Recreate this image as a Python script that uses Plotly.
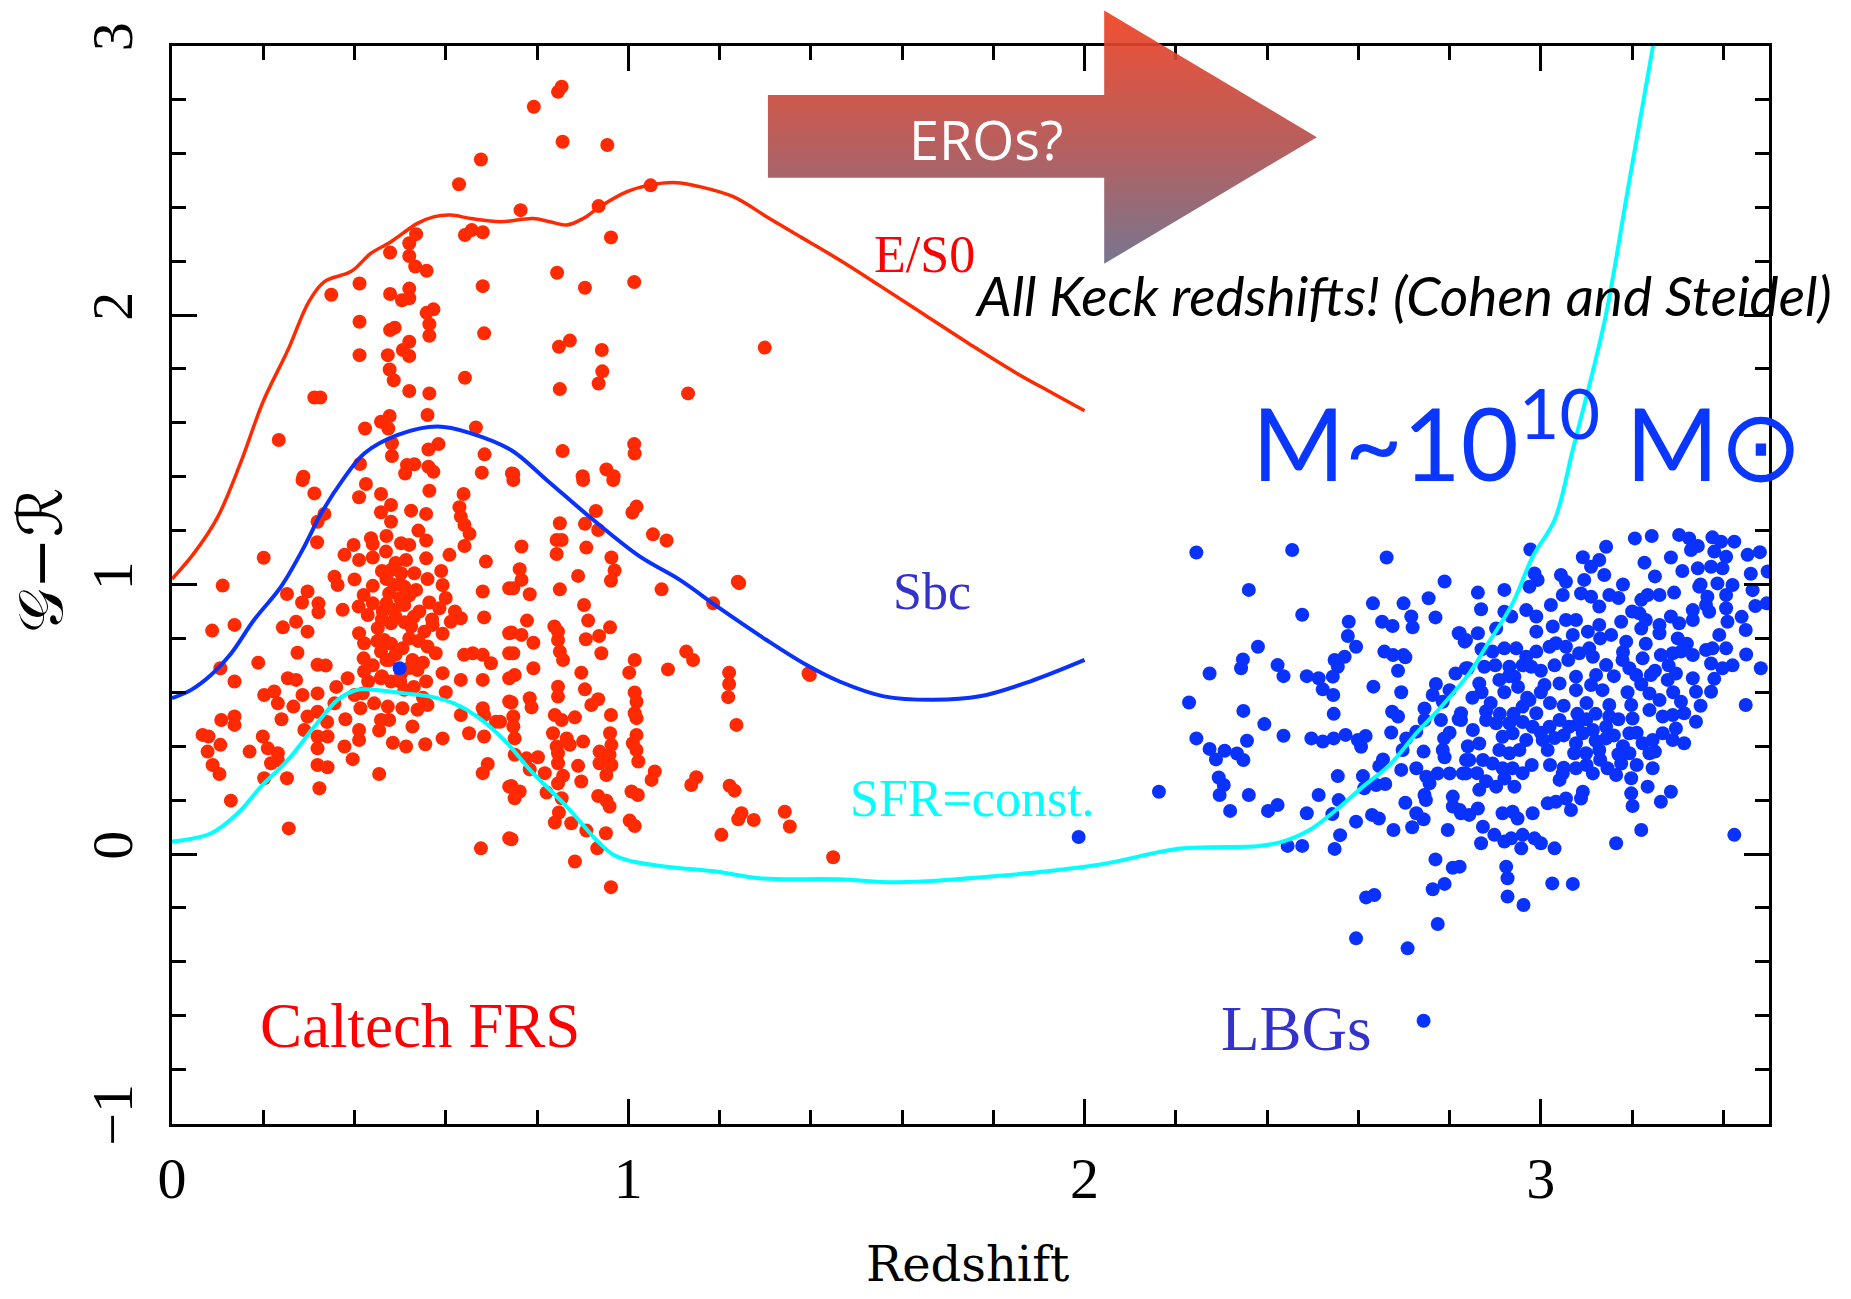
import plotly.graph_objects as go

W, H = 1851, 1299

# ---------------- model tracks (redshift, G-R) ----------------
es0_z = [0.0, 0.05, 0.10, 0.15, 0.20, 0.254, 0.30, 0.334, 0.392, 0.436, 0.48, 0.538, 0.575, 0.611, 0.655,
         0.72, 0.791, 0.828, 0.865, 0.901, 0.938, 0.996, 1.047, 1.105, 1.157, 1.23, 1.303, 1.376, 1.463,
         1.55, 1.65, 1.75, 1.85, 1.93, 2.0]
es0_gr = [1.02, 1.12, 1.25, 1.45, 1.68, 1.87, 2.05, 2.124, 2.161, 2.229, 2.272, 2.34, 2.365, 2.371, 2.358,
          2.346, 2.358, 2.346, 2.334, 2.358, 2.402, 2.457, 2.482, 2.491, 2.476, 2.439, 2.365, 2.291, 2.204,
          2.11, 2.0, 1.89, 1.785, 1.71, 1.645]

sbc_z = [0.0, 0.042, 0.086, 0.13, 0.18, 0.239, 0.29, 0.327, 0.375, 0.422, 0.495, 0.582, 0.655, 0.743,
         0.821, 0.923, 1.025, 1.113, 1.2, 1.303, 1.39, 1.463, 1.56, 1.67, 1.77, 1.88, 2.0]
sbc_gr = [0.578, 0.609, 0.665, 0.745, 0.869, 0.992, 1.141, 1.264, 1.39, 1.487, 1.555, 1.586, 1.561, 1.499,
          1.388, 1.24, 1.104, 1.017, 0.912, 0.794, 0.702, 0.64, 0.585, 0.572, 0.585, 0.64, 0.72]

sfr_z = [0.0, 0.086, 0.144, 0.195, 0.254, 0.312, 0.363, 0.40, 0.421, 0.509, 0.567, 0.618, 0.669, 0.728,
         0.791, 0.865, 0.93, 0.967, 1.01, 1.084, 1.193, 1.288, 1.463, 1.59, 1.82, 2.03, 2.21, 2.383,
         2.434, 2.493, 2.551, 2.61, 2.668, 2.727, 2.785, 2.843, 2.88, 2.938, 2.982, 3.03, 3.07, 3.14,
         3.19, 3.246]
sfr_gr = [0.046, 0.077, 0.151, 0.25, 0.349, 0.473, 0.572, 0.606, 0.611, 0.596, 0.584, 0.559, 0.51, 0.423,
          0.30, 0.176, 0.052, -0.003, -0.028, -0.047, -0.065, -0.09, -0.094, -0.105, -0.08, -0.04, 0.02,
          0.03, 0.046, 0.089, 0.163, 0.25, 0.33, 0.448, 0.553, 0.67, 0.77, 0.93, 1.103, 1.239, 1.5, 1.98,
          2.46, 3.0]

# ---------------- galaxies (redshift, G-R) ----------------
frs_points = [
    (0.677, 2.577), (0.629, 2.485), (0.535, 2.30), (0.52, 2.266), (0.478, 2.232), (0.52, 2.219), (0.533, 2.18),
    (0.558, 2.164), (0.642, 2.297), (0.657, 2.315), (0.681, 2.307), (0.411, 2.117), (0.349, 2.075), (0.478, 2.078),
    (0.504, 2.055), (0.52, 2.098), (0.52, 2.062), (0.681, 2.107), (0.558, 2.008), (0.573, 2.021), (0.564, 1.966),
    (0.564, 1.923), (0.411, 1.975), (0.478, 1.944), (0.488, 1.953), (0.684, 1.932), (0.52, 1.901), (0.506, 1.87),
    (0.52, 1.848), (0.411, 1.851), (0.473, 1.851), (0.477, 1.798), (0.486, 1.758), (0.52, 1.718), (0.564, 1.709),
    (0.642, 1.767), (0.312, 1.694), (0.325, 1.694), (0.477, 1.625), (0.458, 1.604), (0.474, 1.579), (0.56, 1.629),
    (0.666, 1.583), (0.423, 1.579), (0.234, 1.536), (0.482, 1.524), (0.482, 1.477), (0.584, 1.521), (0.562, 1.501),
    (0.685, 1.483), (0.412, 1.447), (0.515, 1.443), (0.531, 1.446), (0.511, 1.412), (0.562, 1.437), (0.573, 1.418),
    (0.679, 1.415), (0.288, 1.40), (0.745, 1.412),
    (0.854, 2.847), (0.846, 2.828), (0.793, 2.773), (0.856, 2.643), (0.954, 2.631), (0.764, 2.389), (0.935, 2.404),
    (1.049, 2.481), (0.962, 2.288), (0.844, 2.157), (0.905, 2.101), (1.013, 2.122), (0.872, 1.905), (0.848, 1.882),
    (0.942, 1.87), (0.943, 1.791), (0.935, 1.746), (0.85, 1.725), (1.131, 1.709), (1.299, 1.879), (0.856, 1.495),
    (1.013, 1.521), (1.014, 1.486), (0.748, 1.41), (0.90, 1.402), (0.952, 1.427), (0.968, 1.402),
    (0.286, 1.388), (0.312, 1.338), (0.41, 1.324), (0.425, 1.373), (0.458, 1.336), (0.48, 1.295), (0.458, 1.268),
    (0.48, 1.233), (0.524, 1.274), (0.557, 1.262), (0.564, 1.348), (0.639, 1.336), (0.63, 1.287), (0.633, 1.252),
    (0.641, 1.221), (0.652, 1.188), (0.641, 1.143), (0.334, 1.262), (0.319, 1.233), (0.318, 1.157), (0.201, 1.099),
    (0.111, 0.996), (0.436, 1.172), (0.398, 1.147), (0.378, 1.11), (0.41, 1.091), (0.44, 1.10), (0.469, 1.122),
    (0.502, 1.153), (0.52, 1.147), (0.513, 1.091), (0.557, 1.163), (0.557, 1.097), (0.608, 1.11), (0.688, 1.085),
    (0.356, 1.029), (0.363, 0.998), (0.40, 1.019), (0.44, 0.995), (0.48, 1.054), (0.502, 1.042), (0.531, 1.042),
    (0.487, 0.998), (0.509, 0.992), (0.535, 0.98), (0.476, 0.967), (0.593, 0.998), (0.681, 0.974), (0.739, 0.986),
    (0.252, 0.965), (0.297, 0.974), (0.285, 0.933), (0.321, 0.93), (0.321, 0.897), (0.374, 0.906), (0.42, 0.961),
    (0.409, 0.918), (0.429, 0.887), (0.462, 0.90), (0.487, 0.906), (0.509, 0.924), (0.542, 0.90), (0.564, 0.933),
    (0.586, 0.912), (0.571, 0.85), (0.684, 0.878), (0.633, 0.875), (0.611, 0.862), (0.739, 0.819), (0.088, 0.829),
    (0.137, 0.85), (0.243, 0.841), (0.272, 0.862), (0.297, 0.825), (0.41, 0.819), (0.451, 0.838), (0.48, 0.856),
    (0.524, 0.844), (0.553, 0.825), (0.593, 0.817), (0.421, 0.782), (0.465, 0.794), (0.505, 0.763), (0.56, 0.77),
    (0.578, 0.745), (0.275, 0.747), (0.42, 0.726), (0.458, 0.751), (0.476, 0.72), (0.527, 0.72), (0.538, 0.683),
    (0.502, 0.67), (0.64, 0.739), (0.659, 0.745), (0.681, 0.739), (0.699, 0.708), (0.739, 0.745), (0.189, 0.71),
    (0.106, 0.689), (0.319, 0.702), (0.337, 0.699), (0.385, 0.652), (0.421, 0.677), (0.458, 0.652), (0.48, 0.64),
    (0.557, 0.64), (0.593, 0.671), (0.633, 0.646), (0.681, 0.646), (0.739, 0.652), (0.137, 0.64), (0.254, 0.652),
    (0.272, 0.646), (0.202, 0.59), (0.224, 0.603), (0.232, 0.559), (0.286, 0.59), (0.319, 0.596), (0.266, 0.547),
    (0.356, 0.559), (0.40, 0.59), (0.418, 0.596), (0.509, 0.609), (0.413, 0.541), (0.443, 0.559), (0.473, 0.547),
    (0.505, 0.541), (0.538, 0.535), (0.56, 0.553), (0.681, 0.541), (0.739, 0.566), (0.633, 0.516), (0.684, 0.516),
    (0.71, 0.491), (0.297, 0.51), (0.319, 0.528), (0.108, 0.497), (0.137, 0.51), (0.137, 0.479), (0.458, 0.497),
    (0.476, 0.497), (0.527, 0.473), (0.41, 0.46), (0.454, 0.458), (0.067, 0.442), (0.08, 0.436), (0.199, 0.436),
    (0.319, 0.436), (0.341, 0.436), (0.41, 0.423), (0.484, 0.413), (0.513, 0.399), (0.555, 0.407), (0.593, 0.429),
    (0.651, 0.448), (0.684, 0.436), (0.106, 0.405), (0.078, 0.38), (0.17, 0.38), (0.21, 0.392), (0.232, 0.374),
    (0.319, 0.392), (0.378, 0.399), (0.396, 0.352), (0.089, 0.33), (0.104, 0.297), (0.217, 0.337), (0.232, 0.349),
    (0.319, 0.33), (0.341, 0.322), (0.692, 0.334), (0.681, 0.30), (0.454, 0.297), (0.202, 0.281), (0.252, 0.281),
    (0.739, 0.25), (0.323, 0.244), (0.129, 0.198), (0.256, 0.095), (0.739, 0.058), (0.677, 0.021),
    (0.748, 1.388), (0.901, 1.388), (0.967, 1.388), (0.929, 1.273), (1.018, 1.289), (1.009, 1.267), (0.85, 1.227),
    (0.905, 1.225), (0.934, 1.202), (1.054, 1.186), (1.084, 1.163), (0.843, 1.165), (0.854, 1.165), (0.766, 1.141),
    (0.908, 1.137), (0.843, 1.113), (0.963, 1.10), (0.97, 1.052), (0.962, 1.014), (0.89, 1.032), (0.762, 1.057),
    (0.766, 1.017), (0.748, 0.986), (0.784, 0.964), (0.85, 0.982), (1.073, 0.982), (1.243, 1.005), (1.186, 0.93),
    (0.903, 0.924), (0.778, 0.866), (0.912, 0.866), (0.838, 0.844), (0.846, 0.825), (0.96, 0.841), (0.744, 0.822),
    (0.766, 0.813), (0.792, 0.784), (0.907, 0.797), (0.936, 0.809), (0.846, 0.794), (0.85, 0.751), (0.857, 0.72),
    (0.941, 0.745), (0.748, 0.745), (1.127, 0.751), (1.142, 0.72), (1.014, 0.72), (1.087, 0.685), (1.002, 0.673),
    (0.897, 0.673), (0.792, 0.689), (0.751, 0.664), (1.221, 0.673), (1.221, 0.631), (1.219, 0.582), (1.398, 0.664),
    (0.846, 0.621), (0.905, 0.611), (1.014, 0.599), (0.784, 0.578), (0.934, 0.574), (0.846, 0.584), (0.744, 0.562),
    (0.919, 0.553), (1.018, 0.565), (0.788, 0.544), (0.883, 0.507), (0.962, 0.516), (1.014, 0.522), (1.018, 0.504),
    (0.748, 0.51), (0.839, 0.516), (0.854, 0.497), (1.237, 0.479), (0.748, 0.473), (0.719, 0.491), (0.96, 0.448),
    (1.018, 0.442), (0.835, 0.448), (0.865, 0.429), (0.901, 0.417), (0.751, 0.429), (1.01, 0.411), (0.963, 0.405),
    (0.843, 0.399), (0.872, 0.405), (1.018, 0.386), (0.937, 0.38), (0.959, 0.368), (0.846, 0.374), (0.751, 0.368),
    (0.802, 0.359), (0.777, 0.355), (1.022, 0.343), (0.937, 0.337), (0.963, 0.33), (0.846, 0.337), (0.89, 0.327),
    (0.784, 0.314), (0.817, 0.30), (0.857, 0.29), (0.952, 0.293), (1.058, 0.306), (1.051, 0.275), (1.149, 0.285),
    (1.138, 0.256), (0.897, 0.269), (0.846, 0.262), (0.744, 0.252), (0.762, 0.232), (0.751, 0.207), (1.222, 0.253),
    (1.233, 0.235), (0.821, 0.228), (0.854, 0.207), (0.934, 0.215), (0.959, 0.176), (0.952, 0.198), (1.007, 0.232),
    (1.021, 0.219), (0.848, 0.154), (0.839, 0.117), (0.875, 0.114), (1.003, 0.124), (1.014, 0.104), (1.248, 0.151),
    (1.241, 0.129), (1.275, 0.126), (1.343, 0.157), (1.354, 0.102), (1.204, 0.071), (0.744, 0.055), (0.908, 0.087),
    (0.951, 0.077), (0.932, 0.021), (0.883, -0.028), (0.962, -0.123), (1.449, -0.012), (1.24, 1.01), (1.395, 0.67),
    (0.46, 1.05), (0.47, 1.02), (0.49, 1.08), (0.50, 1.00), (0.52, 0.96), (0.50, 0.95), (0.47, 0.93), (0.49, 0.88),
    (0.51, 0.86), (0.53, 0.88), (0.46, 0.87), (0.44, 0.93), (0.45, 0.79), (0.48, 0.78), (0.52, 0.80), (0.54, 0.79),
    (0.47, 0.72), (0.49, 0.74), (0.44, 0.70), (0.46, 0.66), (0.52, 0.69), (0.55, 0.71), (0.43, 0.64), (0.50, 0.64),
    (0.53, 0.62), (0.44, 1.15), (0.47, 1.18), (0.54, 1.20), (0.59, 1.05), (0.56, 1.02), (0.60, 0.95), (0.62, 0.90),
    (0.57, 0.87), (0.55, 0.58), (0.60, 0.60), (0.36, 0.62), (0.34, 0.49), (0.38, 0.50), (0.29, 0.46), (0.24, 0.50),
]

lbg_points = [
    (0.499, 0.689), (1.987, 0.063),
    (2.245, 1.119), (2.455, 1.128), (2.662, 1.10), (2.789, 1.011), (2.36, 0.98), (2.477, 0.888), (2.632, 0.93),
    (2.699, 0.93), (2.754, 0.949), (2.769, 0.878), (2.716, 0.881), (2.719, 0.841), (2.579, 0.862), (2.652, 0.862),
    (2.675, 0.846), (2.577, 0.809), (2.595, 0.769), (2.82, 0.819), (2.833, 0.788), (2.38, 0.769), (2.347, 0.722),
    (2.343, 0.689), (2.423, 0.701), (2.436, 0.66), (2.274, 0.67), (2.548, 0.72), (2.57, 0.732), (2.555, 0.695),
    (2.544, 0.658), (2.487, 0.66), (2.513, 0.652), (2.522, 0.611), (2.545, 0.59), (2.657, 0.751), (2.676, 0.738),
    (2.699, 0.738), (2.703, 0.73), (2.687, 0.68), (2.633, 0.621), (2.694, 0.60), (2.77, 0.631), (2.813, 0.67),
    (2.836, 0.689), (2.763, 0.59), (2.80, 0.608), (2.229, 0.562), (2.348, 0.531), (2.546, 0.52), (2.674, 0.528),
    (2.687, 0.51), (2.745, 0.54), (2.785, 0.565), (2.825, 0.522), (2.394, 0.482), (2.436, 0.439), (2.245, 0.429),
    (2.356, 0.42), (2.274, 0.39), (2.307, 0.383), (2.334, 0.373), (2.288, 0.351), (2.348, 0.349), (2.497, 0.429),
    (2.522, 0.417), (2.546, 0.429), (2.572, 0.442), (2.599, 0.423), (2.616, 0.438), (2.606, 0.398), (2.672, 0.451),
    (2.705, 0.429), (2.727, 0.454), (2.745, 0.497), (2.781, 0.497), (2.825, 0.497), (2.788, 0.429), (2.785, 0.386),
    (2.789, 0.359), (2.743, 0.38), (2.697, 0.386), (2.654, 0.351), (2.646, 0.326), (2.694, 0.312), (2.727, 0.318),
    (2.836, 0.349), (2.774, 0.299), (2.80, 0.299), (2.829, 0.299), (2.749, 0.287), (2.756, 0.262), (2.294, 0.284),
    (2.305, 0.256), (2.296, 0.219), (2.36, 0.219), (2.163, 0.231), (2.319, 0.16), (2.423, 0.182), (2.402, 0.16),
    (2.513, 0.219), (2.555, 0.289), (2.61, 0.289), (2.613, 0.244), (2.639, 0.256), (2.659, 0.26), (2.557, 0.20),
    (2.487, 0.151), (2.543, 0.148), (2.595, 0.12), (2.63, 0.145), (2.645, 0.132), (2.677, 0.089), (2.703, 0.19),
    (2.727, 0.151), (2.743, 0.129), (2.718, 0.099), (2.748, 0.20), (2.745, 0.219), (2.796, 0.089), (2.807, 0.213),
    (2.807, 0.176), (2.825, 0.151), (2.56, 0.07), (2.445, 0.03), (2.477, 0.03), (2.548, 0.019), (2.769, -0.02),
    (2.807, -0.051), (2.789, -0.111), (2.763, -0.131), (2.617, -0.161), (2.635, -0.152), (2.774, -0.26),
    (2.595, -0.313), (2.708, -0.35), (2.743, -0.619),
    (2.977, 1.13), (3.143, 1.14), (3.206, 1.171), (3.243, 1.18), (3.303, 1.184), (3.325, 1.171), (3.344, 1.143),
    (3.329, 1.128), (3.376, 1.175), (3.395, 1.159), (3.424, 1.159), (3.453, 1.11), (3.497, 1.048), (3.464, 0.979),
    (3.495, 0.93), (3.38, 1.122), (3.406, 1.103), (3.285, 1.10), (3.227, 1.081), (3.092, 1.101), (3.128, 1.091),
    (3.11, 1.066), (3.139, 1.035), (3.095, 1.017), (3.088, 0.967), (3.11, 0.955), (3.15, 0.961), (3.128, 0.918),
    (3.044, 1.035), (3.055, 1.01), (3.048, 0.961), (3.022, 0.924), (2.986, 1.041), (2.993, 1.017), (2.975, 0.992),
    (2.92, 0.98), (2.862, 0.97), (2.869, 0.908), (2.92, 0.899), (2.935, 0.881), (2.968, 0.905), (2.99, 0.881),
    (2.99, 0.825), (2.902, 0.837), (2.822, 0.819), (2.862, 0.819), (2.836, 0.794), (3.344, 1.06), (3.373, 1.066),
    (3.398, 1.06), (3.347, 0.992), (3.387, 1.004), (3.42, 0.998), (3.406, 0.961), (3.365, 0.955), (3.362, 0.924),
    (3.369, 0.899), (3.406, 0.912), (3.333, 0.905), (3.292, 0.97), (3.26, 0.961), (3.234, 0.961), (3.22, 0.943),
    (3.216, 0.893), (3.23, 0.868), (3.22, 0.837), (3.285, 0.881), (3.303, 0.856), (3.333, 0.868), (3.26, 0.819),
    (3.409, 0.862), (3.449, 0.831), (3.391, 0.813), (3.176, 0.862), (3.154, 0.813), (3.187, 0.788), (3.077, 0.868),
    (3.055, 0.868), (3.026, 0.844), (3.033, 0.782), (3.07, 0.813), (3.103, 0.825), (3.128, 0.85), (3.106, 0.763),
    (3.114, 0.732), (3.084, 0.745), (3.055, 0.769), (3.019, 0.769), (3.289, 0.745), (3.307, 0.751), (3.333, 0.738),
    (3.362, 0.757), (3.376, 0.763), (3.406, 0.763), (3.373, 0.707), (3.398, 0.689), (3.482, 0.689), (3.263, 0.738),
    (3.223, 0.726), (3.179, 0.72), (3.194, 0.689), (3.209, 0.664), (3.241, 0.664), (3.143, 0.701), (3.121, 0.664),
    (3.135, 0.608), (3.11, 0.627), (3.077, 0.658), (3.077, 0.608), (3.041, 0.633), (3.008, 0.627), (2.979, 0.695),
    (2.968, 0.732), (2.99, 0.751), (2.946, 0.763), (2.92, 0.763), (2.894, 0.751), (2.931, 0.695), (2.876, 0.695),
    (2.942, 0.658), (2.909, 0.646), (2.865, 0.633), (2.84, 0.689), (3.296, 0.67), (3.278, 0.646), (3.333, 0.652),
    (3.34, 0.602), (3.373, 0.602), (3.449, 0.553), (3.238, 0.596), (3.26, 0.571), (3.198, 0.553), (3.201, 0.503),
    (3.238, 0.534), (3.307, 0.565), (3.267, 0.51), (3.289, 0.516), (3.314, 0.522), (3.34, 0.491), (3.296, 0.466),
    (3.267, 0.448), (3.289, 0.423), (3.314, 0.411), (3.245, 0.423), (3.223, 0.411), (3.238, 0.374), (3.245, 0.318),
    (3.194, 0.448), (3.194, 0.374), (3.176, 0.336), (3.198, 0.281), (3.198, 0.225), (3.201, 0.178), (3.234, 0.25),
    (3.263, 0.194), (3.285, 0.231), (3.15, 0.553), (3.15, 0.51), (3.143, 0.472), (3.143, 0.429), (3.128, 0.386),
    (3.099, 0.374), (3.073, 0.374), (3.092, 0.448), (3.062, 0.472), (3.077, 0.411), (3.114, 0.46), (3.114, 0.299),
    (3.146, 0.318), (3.165, 0.293), (3.077, 0.318), (3.048, 0.299), (3.041, 0.275), (3.092, 0.231), (3.088, 0.206),
    (3.055, 0.206), (3.033, 0.194), (3.015, 0.188), (3.066, 0.163), (3.041, 0.497), (3.019, 0.472), (3.004, 0.423),
    (3.015, 0.386), (2.982, 0.472), (2.99, 0.522), (2.96, 0.547), (2.975, 0.571), (2.931, 0.485), (2.902, 0.485),
    (2.88, 0.497), (2.851, 0.46), (2.916, 0.435), (2.938, 0.448), (2.968, 0.423), (2.953, 0.386), (2.931, 0.374),
    (2.909, 0.386), (2.865, 0.41), (2.843, 0.349), (2.873, 0.349), (2.894, 0.336), (2.916, 0.318), (2.938, 0.318),
    (2.836, 0.299), (2.902, 0.25), (2.942, 0.25), (2.865, 0.238), (2.822, 0.163), (2.862, 0.169), (2.843, 0.145),
    (2.916, 0.151), (2.938, 0.157), (2.949, 0.132), (2.982, 0.151), (2.873, 0.101), (2.898, 0.071), (2.92, 0.046),
    (2.935, 0.058), (2.96, 0.071), (2.986, 0.058), (2.957, 0.021), (3.0, 0.04), (3.03, 0.021), (2.869, 0.04),
    (3.165, 0.04), (3.22, 0.089), (3.424, 0.071), (2.924, -0.047), (2.927, -0.09), (3.025, -0.109), (3.07, -0.111),
    (2.927, -0.158), (2.962, -0.189), (2.822, -0.047),
    (2.87, 0.60), (2.89, 0.56), (2.92, 0.60), (2.95, 0.62), (2.97, 0.58), (3.00, 0.60), (3.02, 0.56), (3.05, 0.55),
    (3.08, 0.52), (3.10, 0.56), (3.12, 0.52), (2.88, 0.53), (2.91, 0.52), (2.94, 0.52), (2.96, 0.49), (3.00, 0.45),
    (3.03, 0.43), (3.05, 0.44), (3.08, 0.48), (3.10, 0.50), (3.12, 0.42), (3.16, 0.44), (3.18, 0.40), (3.21, 0.45),
    (3.17, 0.50), (3.19, 0.60), (3.22, 0.63), (3.25, 0.68), (3.28, 0.70), (3.23, 0.78), (3.26, 0.85), (3.30, 0.80),
    (3.32, 0.78), (3.18, 0.75), (3.16, 0.66), (3.13, 0.80), (3.06, 0.72), (3.03, 0.70), (3.00, 0.68), (2.96, 0.70),
    (2.93, 0.66), (2.90, 0.70), (2.87, 0.76), (2.85, 0.58), (2.82, 0.50), (2.80, 0.45), (2.84, 0.40), (2.86, 0.30),
    (2.88, 0.27), (2.92, 0.28), (2.96, 0.30), (2.98, 0.33), (3.02, 0.33), (3.05, 0.32), (3.10, 0.33), (3.13, 0.35),
    (3.17, 0.37), (3.21, 0.33), (3.25, 0.38), (3.29, 0.60), (3.35, 0.55), (3.38, 0.65), (3.42, 0.70), (3.45, 0.74),
    (3.44, 0.88), (3.47, 0.92), (3.46, 1.04), (3.48, 1.12), (3.35, 1.00), (3.31, 1.05), (3.25, 1.03), (3.18, 1.00),
    (3.20, 0.90), (3.17, 0.95),
]

x_tick_vals = [0, 1, 2, 3]
y_tick_vals = [-1, 0, 1, 2, 3]

# ---------------- layout geometry ----------------
X_RANGE = [0, 3.5]
Y_RANGE = [-1, 3]
DOM_X = [172 / W, 1769 / W]
DOM_Y = [1 - 1123.5 / H, 1 - 45.5 / H]

# full-figure overlay axes that share the data scale (for the arrow, which leaves the frame)
sx = (X_RANGE[1] - X_RANGE[0]) / (DOM_X[1] - DOM_X[0])
sy = (Y_RANGE[1] - Y_RANGE[0]) / (DOM_Y[1] - DOM_Y[0])
X2_RANGE = [X_RANGE[0] - DOM_X[0] * sx, X_RANGE[0] + (1 - DOM_X[0]) * sx]
Y2_RANGE = [Y_RANGE[0] - DOM_Y[0] * sy, Y_RANGE[0] + (1 - DOM_Y[0]) * sy]

# arrow outline (decoration)
arrow_x = [1.306, 2.043, 2.043, 2.509, 2.043, 2.043, 1.306, 1.306]
arrow_y = [2.816, 2.816, 3.13, 2.66, 2.19, 2.509, 2.509, 2.816]

RED = "#ff2a00"
BLUE = "#0a32ff"
CYAN = "#00ffff"

fig = go.Figure()

fig.add_trace(go.Scatter(
    x=[p[0] for p in frs_points], y=[p[1] for p in frs_points], mode="markers",
    marker=dict(color=RED, size=14, line=dict(width=0)), showlegend=False, hoverinfo="skip"))
fig.add_trace(go.Scatter(
    x=[p[0] for p in lbg_points], y=[p[1] for p in lbg_points], mode="markers",
    marker=dict(color=BLUE, size=14, line=dict(width=0)), showlegend=False, hoverinfo="skip"))

fig.add_trace(go.Scatter(x=es0_z, y=es0_gr, mode="lines", line=dict(color=RED, width=3.5, shape="spline"),
                         showlegend=False, hoverinfo="skip"))
fig.add_trace(go.Scatter(x=sbc_z, y=sbc_gr, mode="lines", line=dict(color=BLUE, width=4, shape="spline"),
                         showlegend=False, hoverinfo="skip"))
fig.add_trace(go.Scatter(x=sfr_z, y=sfr_gr, mode="lines", line=dict(color=CYAN, width=4, shape="spline"),
                         showlegend=False, hoverinfo="skip"))

fig.add_trace(go.Scatter(
    x=arrow_x, y=arrow_y, xaxis="x2", yaxis="y2", mode="lines", fill="toself",
    line=dict(width=0), opacity=0.92,
    fillgradient=dict(type="vertical", start=min(arrow_y), stop=max(arrow_y),
                      colorscale=[[0, "#6c6a86"], [0.5, "#b5504d"], [1, "#f04020"]]),
    showlegend=False, hoverinfo="skip"))

axis_common = dict(
    showline=True, linecolor="black", linewidth=3, mirror="ticks",
    ticks="inside", ticklen=25, tickwidth=3, tickcolor="black",
    showgrid=False, zeroline=False, automargin=False,
    tickfont=dict(family="Liberation Serif", size=58, color="black"),
)

fig.update_layout(
    width=W, height=H,
    margin=dict(l=0, r=0, t=0, b=0, autoexpand=False),
    paper_bgcolor="white", plot_bgcolor="rgba(0,0,0,0)",
    xaxis=dict(domain=DOM_X, range=X_RANGE, tickvals=x_tick_vals, ticklabelstandoff=2,
               minor=dict(dtick=0.2, ticks="inside", ticklen=14, tickwidth=3, tickcolor="black", showgrid=False),
               **axis_common),
    yaxis=dict(domain=DOM_Y, range=Y_RANGE, tickvals=y_tick_vals, tickangle=-90, ticklabelstandoff=14,
               minor=dict(dtick=0.2, ticks="inside", ticklen=14, tickwidth=3, tickcolor="black", showgrid=False),
               **axis_common),
    xaxis2=dict(domain=[0, 1], range=X2_RANGE, visible=False, anchor="y2", automargin=False),
    yaxis2=dict(domain=[0, 1], range=Y2_RANGE, visible=False, anchor="x2", automargin=False),
)

serif = "Liberation Serif"
ann = [
    dict(x=1.65, y=2.224, text="E/S0", font=dict(family=serif, size=52, color="#ff0000")),
    dict(x=1.666, y=0.974, text="Sbc", font=dict(family=serif, size=52, color="#3333cc")),
    dict(x=1.754, y=0.206, text="SFR=const.", font=dict(family=serif, size=52, color=CYAN)),
    dict(x=0.543, y=-0.64, text="Caltech FRS", font=dict(family=serif, size=63, color="#ff0000")),
    dict(x=2.465, y=-0.649, text="LBGs", font=dict(family=serif, size=63, color="#3333cc")),
    dict(x=2.698, y=2.074, text="<i>All Keck redshifts! (Cohen and Steidel)</i>",
         font=dict(family="Lato", size=55, color="black")),
    dict(x=2.97, y=1.55, text="M~10<sup>10</sup> M\u2299", font=dict(family="Lato", size=100, color="#0a37ff")),
    dict(x=1.785, y=2.654, text="EROs?", font=dict(family="Open Sans", size=54, color="white")),
]
for a in ann:
    fig.add_annotation(xref="x", yref="y", showarrow=False, xanchor="center", yanchor="middle", **a)

fig.add_annotation(xref="paper", yref="paper", x=968 / W, y=1 - 1264 / H, text="Redshift", showarrow=False,
                   borderpad=0, font=dict(family="DejaVu Serif", size=48, color="black"),
                   xanchor="center", yanchor="middle")
fig.add_annotation(xref="paper", yref="paper", x=40 / W, y=1 - 561 / H, text="\U0001D4A2\u2212\u211B",
                   showarrow=False, textangle=-90,
                   font=dict(family="DejaVu Serif, DejaVu Sans", size=62, color="black"),
                   xanchor="center", yanchor="middle")

fig.write_html("out.html")
